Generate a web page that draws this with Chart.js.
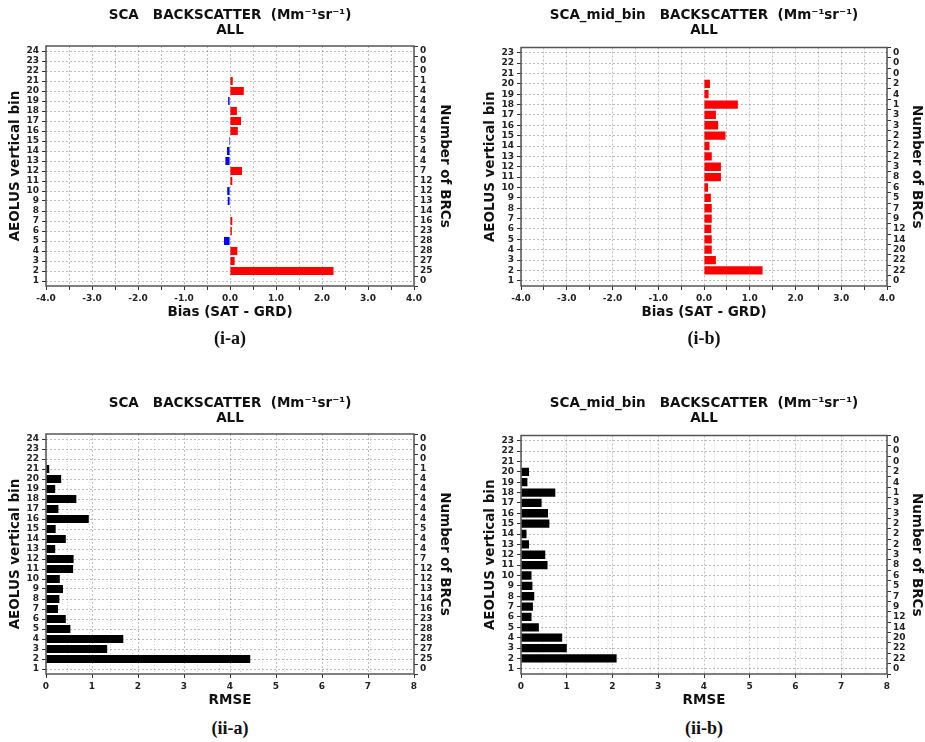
<!DOCTYPE html>
<html>
<head>
<meta charset="utf-8">
<script src="https://cdn.jsdelivr.net/npm/chart.js@4.4.1/dist/chart.umd.min.js"></script>
<style>
  html, body { margin: 0; padding: 0; background: #fff; overflow: hidden; }
  #page { position: relative; width: 925px; height: 742px; }
  canvas { position: absolute; }
  .cap { position: absolute; width: 120px; margin-left: -60px; text-align: center;
         font: bold 18px 'Liberation Serif', serif; color: #111; line-height: 20px; }
</style>
</head>
<body>
<div id="page">
  <canvas id="biasA" width="460" height="330" style="left:0;top:0"></canvas>
  <canvas id="biasB" width="450" height="330" style="left:475px;top:0"></canvas>
  <canvas id="rmseA" width="460" height="330" style="left:0;top:388px"></canvas>
  <canvas id="rmseB" width="450" height="330" style="left:475px;top:388px"></canvas>
  <div class="cap" style="left:230px;top:328px">(i-a)</div>
  <div class="cap" style="left:704px;top:328px">(i-b)</div>
  <div class="cap" style="left:230px;top:718px">(ii-a)</div>
  <div class="cap" style="left:704px;top:718px">(ii-b)</div>
</div>
<script>
// vertical bins
const binsA = [1, 2, 3, 4, 5, 6, 7, 8, 9, 10, 11, 12, 13, 14, 15, 16, 17, 18, 19, 20, 21, 22, 23, 24];
const binsB = [1, 2, 3, 4, 5, 6, 7, 8, 9, 10, 11, 12, 13, 14, 15, 16, 17, 18, 19, 20, 21, 22, 23];

// number of BRCs per bin (right axis)
const countsA = [0, 25, 27, 28, 28, 23, 16, 14, 13, 12, 12, 7, 4, 4, 5, 4, 4, 4, 4, 4, 1, 0, 0, 0];
const countsB = [0, 22, 22, 20, 14, 12, 9, 7, 5, 6, 8, 3, 2, 2, 2, 3, 3, 1, 4, 2, 0, 0, 0];

// bias (SAT - GRD), null = no bar
const biasA = [null, 2.25, 0.10, 0.16, -0.13, 0.04, 0.05, null, -0.05, -0.06, 0.05, 0.26,
  -0.10, -0.065, -0.02, 0.17, 0.24, 0.15, -0.04, 0.30, 0.06, null, null, null];
const biasB = [null, 1.28, 0.26, 0.17, 0.17, 0.16, 0.17, 0.17, 0.15, 0.09, 0.37, 0.37,
  0.17, 0.12, 0.47, 0.31, 0.26, 0.74, 0.10, 0.13, null, null, null];

// RMSE
const rmseA = [null, 4.44, 1.33, 1.68, 0.53, 0.43, 0.26, 0.29, 0.37, 0.30, 0.59, 0.60,
  0.20, 0.43, 0.21, 0.93, 0.27, 0.66, 0.20, 0.33, 0.07, null, null, null];
const rmseB = [null, 2.09, 1.00, 0.90, 0.39, 0.23, 0.26, 0.29, 0.25, 0.23, 0.58, 0.53,
  0.175, 0.12, 0.62, 0.59, 0.45, 0.75, 0.14, 0.175, null, null, null];

const titleSCA = 'SCA   BACKSCATTER  (Mm\u207B\u00B9sr\u207B\u00B9)';
const titleMid = 'SCA_mid_bin   BACKSCATTER  (Mm\u207B\u00B9sr\u207B\u00B9)';

Chart.defaults.font.family = "'DejaVu Sans', sans-serif";

const tickFont = { size: 9, weight: 'bold' };
const axisTitleFont = { size: 13.5, weight: 'bold' };

// full box round the plot area
const framePlugin = {
  id: 'frame',
  afterDraw(chart) {
    const { ctx, chartArea } = chart;
    const { left, top, right, bottom } = chartArea;
    ctx.save();
    ctx.strokeStyle = '#555';
    ctx.lineWidth = 1.5;
    ctx.strokeRect(left, top, right - left, bottom - top);
    ctx.restore();
  }
};

function makePanel(cfg) {
  const canvas = document.getElementById(cfg.id);
  const H = canvas.height;
  const isBias = cfg.kind === 'bias';
  const binTicks = scale => { scale.ticks = cfg.bins.map(b => ({ value: b })); };

  const points = cfg.values
    .map((v, i) => ({ x: v, y: cfg.bins[i] }))
    .filter(p => p.x !== null);
  const colors = points.map(p => isBias ? (p.x < 0 ? '#0000ff' : '#ff0000') : '#000000');

  const grid = {
    color: 'rgba(0,0,0,0.32)',
    lineWidth: 0.8,
    tickLength: 4,
    tickColor: '#333',
    tickWidth: 1,
    tickBorderDash: [],
    offset: false
  };

  const scales = {
    x: {
      type: 'linear',
      position: 'bottom',
      min: isBias ? -4 : 0,
      max: isBias ? 4 : 8,
      ticks: {
        stepSize: isBias ? 0.5 : 1,
        autoSkip: false,
        maxRotation: 0,
        padding: 3,
        color: '#222',
        font: tickFont,
        callback: v => isBias ? (Number.isInteger(v) ? v.toFixed(1) : '') : String(v)
      },
      grid: grid,
      border: { display: false, dash: [2, 2] },
      title: {
        display: true,
        text: isBias ? 'Bias (SAT - GRD)' : 'RMSE',
        color: '#111',
        font: axisTitleFont,
        padding: { top: 0, bottom: 9 }
      },
      afterFit: s => { s.height = H - 286; }
    },
    y: {
      type: 'linear',
      position: 'left',
      min: 0.5,
      max: cfg.bins.length + 0.5,
      offset: false,
      afterBuildTicks: binTicks,
      ticks: { autoSkip: false, padding: 3, color: '#222', font: tickFont, callback: v => String(v) },
      grid: grid,
      border: { display: false, dash: [2, 2] },
      title: {
        display: true,
        text: 'AEOLUS vertical bin',
        color: '#111',
        font: axisTitleFont,
        padding: { top: 7, bottom: 0 }
      },
      afterFit: s => { s.width = cfg.leftW; }
    },
    y2: {
      type: 'linear',
      position: 'right',
      min: 0.5,
      max: cfg.bins.length + 0.5,
      offset: false,
      afterBuildTicks: binTicks,
      ticks: {
        autoSkip: false,
        padding: 2,
        color: '#222',
        font: tickFont,
        callback: v => String(cfg.counts[cfg.bins.indexOf(v)])
      },
      grid: { drawOnChartArea: false, tickLength: 4, tickColor: '#333', tickWidth: 1 },
      border: { display: false },
      title: {
        display: true,
        text: 'Number of BRCs',
        color: '#111',
        font: axisTitleFont,
        padding: { top: cfg.rightPad, bottom: 0 }
      },
      afterFit: s => { s.width = cfg.rightW; }
    }
  };

  if (!isBias) {
    // second set of light grid lines (17 intervals across 0..8)
    scales.xm = {
      type: 'linear',
      position: 'bottom',
      min: 0,
      max: 17,
      ticks: { display: false, stepSize: 1 },
      grid: { color: 'rgba(0,0,0,0.2)', lineWidth: 0.8, drawTicks: false },
      border: { display: false, dash: [1, 2] },
      afterFit: s => { s.height = 0; }
    };
  }

  return new Chart(canvas.getContext('2d'), {
    type: 'bar',
    data: {
      datasets: [{
        data: points,
        backgroundColor: colors,
        borderWidth: 0,
        categoryPercentage: 1,
        barPercentage: 0.8
      }]
    },
    options: {
      indexAxis: 'y',
      responsive: false,
      animation: false,
      events: [],
      layout: { padding: 0 },
      scales: scales,
      plugins: {
        legend: { display: false },
        tooltip: { enabled: false },
        title: {
          display: true,
          fullSize: false,
          text: [cfg.title, 'ALL'],
          color: '#111',
          font: { size: 13.5, weight: 'bold', lineHeight: 15 / 13.5 },
          padding: { top: 7.5, bottom: cfg.topH - 37.5 }
        }
      }
    },
    plugins: [framePlugin]
  });
}

makePanel({ id: 'biasA', kind: 'bias', bins: binsA, values: biasA, counts: countsA, title: titleSCA,
  leftW: 46, rightW: 46, rightPad: 7, topH: 46 });
makePanel({ id: 'biasB', kind: 'bias', bins: binsB, values: biasB, counts: countsB, title: titleMid,
  leftW: 46, rightW: 38, rightPad: 0, topH: 47.5 });
makePanel({ id: 'rmseA', kind: 'rmse', bins: binsA, values: rmseA, counts: countsA, title: titleSCA,
  leftW: 46, rightW: 46, rightPad: 7, topH: 46 });
makePanel({ id: 'rmseB', kind: 'rmse', bins: binsB, values: rmseB, counts: countsB, title: titleMid,
  leftW: 46, rightW: 38, rightPad: 0, topH: 47.5 });
</script>
</body>
</html>
